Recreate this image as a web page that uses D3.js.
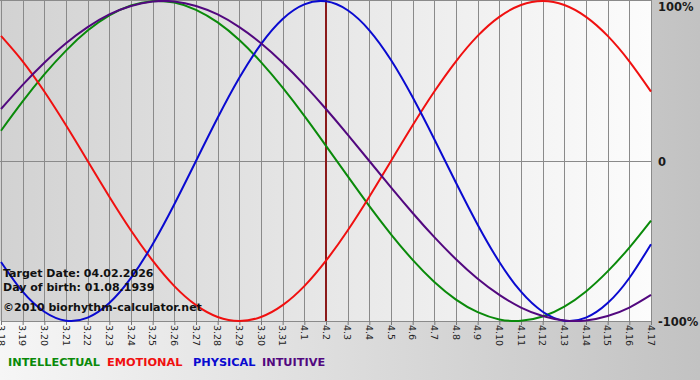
<!DOCTYPE html>
<html><head><meta charset="utf-8">
<script src="https://cdn.jsdelivr.net/npm/d3@7"></script>
<style>html,body{margin:0;padding:0;background:#fff}svg{display:block}</style>
</head><body>
<script>
const dates = ["3.18","3.19","3.20","3.21","3.22","3.23","3.24","3.25","3.26","3.27","3.28","3.29","3.30","3.31",
  "4.1","4.2","4.3","4.4","4.5","4.6","4.7","4.8","4.9","4.10","4.11","4.12","4.13","4.14","4.15","4.16","4.17"];
const intellectual = [18.9,37.2,54.1,69.0,81.5,91.0,97.2,99.9,99.0,94.5,86.6,75.6,61.8,45.8,28.2,9.5,-9.5,-28.2,-45.8,-61.8,-75.6,-86.6,-94.5,-99.0,-99.9,-97.2,-91.0,-81.5,-69.0,-54.1,-37.2];
const emotional = [78.2,62.3,43.4,22.3,0,-22.3,-43.4,-62.3,-78.2,-90.1,-97.5,-100,-97.5,-90.1,-78.2,-62.3,-43.4,-22.3,0,22.3,43.4,62.3,78.2,90.1,97.5,100,97.5,90.1,78.2,62.3,43.4];
const physical = [-63.1,-81.7,-94.2,-99.8,-97.9,-88.8,-73.1,-52.0,-27.0,0,27.0,52.0,73.1,88.8,97.9,99.8,94.2,81.7,63.1,39.8,13.6,-13.6,-39.8,-63.1,-81.7,-94.2,-99.8,-97.9,-88.8,-73.1,-52.0];
const intuitive = [32.5,47.6,61.4,73.6,83.7,91.6,96.9,99.7,99.7,96.9,91.6,83.7,73.6,61.4,47.6,32.5,16.5,0,-16.5,-32.5,-47.6,-61.4,-73.6,-83.7,-91.6,-96.9,-99.7,-99.7,-96.9,-91.6,-83.7];
const yTickLabels = [{v:100,t:"100%"},{v:0,t:"0"},{v:-100,t:"-100%"}];
const targetDate = "4.2";
const infoLines = ["Target Date: 04.02.2026","Day of birth: 01.08.1939","\u00a92010 biorhythm-calculator.net"];
const seriesNames = ["INTELLECTUAL","EMOTIONAL","PHYSICAL","INTUITIVE"];
const seriesColors = ["#0a8a0a","#f01010","#0a0ad0","#52087f"];

const W=700,H=380;
const svg=d3.select("body").append("svg").attr("width",W).attr("height",H);
const defs=svg.append("defs");
const bg=defs.append("linearGradient").attr("id","bg").attr("x1","0").attr("x2","1").attr("y1","0").attr("y2","0");
bg.append("stop").attr("offset","0").attr("stop-color","#f6f6f6");
bg.append("stop").attr("offset","1").attr("stop-color","#c2c2c2");
const pg=defs.append("linearGradient").attr("id","pg").attr("x1","0").attr("x2","1").attr("y1","0").attr("y2","0");
pg.append("stop").attr("offset","0").attr("stop-color","#d2d2d2");
pg.append("stop").attr("offset","1").attr("stop-color","#fcfcfc");

svg.append("rect").attr("width",W).attr("height",H).attr("fill","url(#bg)");

const x=d3.scalePoint().domain(dates).range([1,651]);
const y=d3.scaleLinear().domain([-100,100]).range([321,1]);

svg.append("rect").attr("x",0).attr("y",0).attr("width",651).attr("height",321).attr("fill","url(#pg)");
svg.append("line").attr("x1",0).attr("x2",652).attr("y1",0.5).attr("y2",0.5).attr("stroke","#8a8a8a");

// vertical grid
svg.append("g").selectAll("line").data(dates).join("line")
  .attr("x1",d=>Math.round(x(d))+0.5).attr("x2",d=>Math.round(x(d))+0.5)
  .attr("y1",0).attr("y2",321).attr("stroke","#8a8a8a").attr("stroke-width",1);
// zero line
svg.append("line").attr("x1",0).attr("x2",651).attr("y1",Math.round(y(0))+0.5).attr("y2",Math.round(y(0))+0.5).attr("stroke","#8a8a8a");

// x axis
const xa=svg.append("g").attr("transform","translate(0,321)").call(d3.axisBottom(x).tickSize(4).tickFormat(""));
xa.select(".domain").attr("stroke","#8a8a8a");
xa.selectAll(".tick line").attr("stroke","#777");
svg.append("g").selectAll("text").data(dates).join("text")
  .attr("transform",d=>`translate(${x(d)},325) rotate(90)`)
  .attr("dy","0.35em").attr("text-anchor","start")
  .attr("font-family","DejaVu Sans").attr("font-size",9.5).attr("fill","#222")
  .text(d=>d);

// target line
svg.append("line").attr("x1",x(targetDate)).attr("x2",x(targetDate)).attr("y1",0).attr("y2",321)
  .attr("stroke","#8b1a1a").attr("stroke-width",2);

// curves
const line=d3.line().x((d,i)=>x(dates[i])).y(d=>y(d)).curve(d3.curveNatural);
const all=[intellectual,emotional,physical,intuitive];
svg.append("g").selectAll("path").data(all).join("path")
  .attr("d",d=>line(d)).attr("fill","none")
  .attr("stroke",(d,i)=>seriesColors[i]).attr("stroke-width",2);

// y labels on right
svg.append("g").selectAll("text").data(yTickLabels).join("text")
  .attr("x",658).attr("y",d=>d.v===100?11:(d.v===0?166:326))
  .attr("font-family","DejaVu Sans").attr("font-weight","bold").attr("font-size",11.5).attr("fill","#1a1a1a")
  .text(d=>d.t);

// info text
svg.append("g").selectAll("text").data(infoLines).join("text")
  .attr("x",3).attr("y",(d,i)=>[277,291,311][i])
  .attr("font-family","DejaVu Sans").attr("font-weight","bold").attr("font-size",11).attr("fill","#111")
  .text(d=>d);

// legend
const legendX=[8,107,193,262];
svg.append("g").selectAll("text").data(seriesNames).join("text")
  .attr("x",(d,i)=>legendX[i]).attr("y",366)
  .attr("font-family","DejaVu Sans").attr("font-weight","bold").attr("font-size",11.3)
  .attr("fill",(d,i)=>seriesColors[i]).text(d=>d);
</script>
</body></html>
